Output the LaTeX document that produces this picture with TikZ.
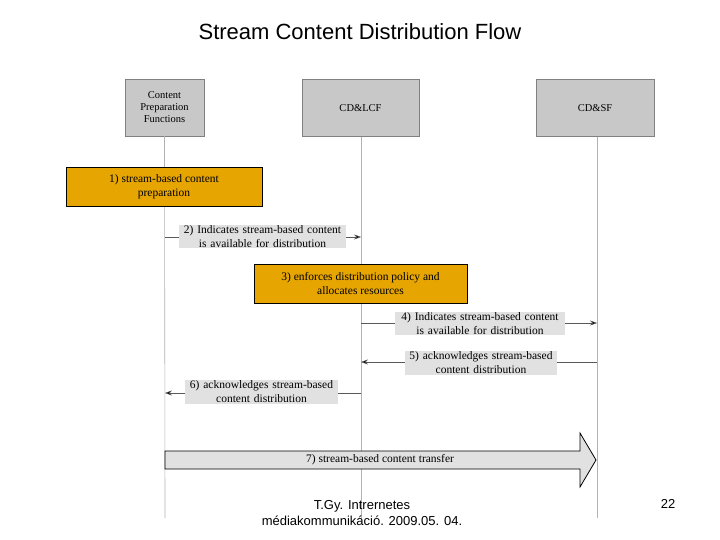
\documentclass[tikz,border=0pt]{standalone}
\usepackage{fontspec}
\newfontfamily\sansf{Liberation Sans}
\setmainfont{Liberation Serif}
\usetikzlibrary{arrows.meta,shapes.arrows}
\definecolor{boxgray}{RGB}{200,200,200}
\definecolor{lblgray}{RGB}{225,225,225}
\definecolor{orng}{RGB}{230,165,0}
\begin{document}
\begin{tikzpicture}[x=1pt,y=-1pt,
  actor/.style={draw=gray,fill=boxgray,minimum width=#1,minimum height=57pt,inner sep=1pt,align=center,font=\fontsize{10.5}{12}\selectfont},
  stepbox/.style={draw=black,fill=orng,align=center,inner sep=1pt,font=\fontsize{11.5}{14}\selectfont,minimum height=39pt},
  lbl/.style={fill=lblgray,align=center,inner sep=0.5pt,font=\fontsize{11.5}{14}\selectfont},
  life/.style={draw=gray!60,line width=0.6pt},
  msg/.style={draw=gray!70!black,line width=0.5pt,-{Stealth[length=7pt,width=5pt,fill=black]}}]
\useasboundingbox (0,0) rectangle (720,540);
\node[font=\sansf\fontsize{22}{24}\selectfont] (title) at (360,32) {Stream Content Distribution Flow};
\node[actor=79pt] (cp) at (164.5,107.5) {Content\\Preparation\\Functions};
\node[actor=117pt] (lcf) at (360.5,108) {CD\&LCF};
\node[actor=118pt] (sf) at (595,108) {CD\&SF};
\coordinate (cpb) at (165,518);
\coordinate (lcfb) at (361,518);
\coordinate (sfb) at (597,518);
\draw[life] (cp.south) -- (cpb);
\draw[life] ([xshift=0.5pt]lcf.south) -- (lcfb);
\draw[life] ([xshift=2pt]sf.south) -- (sfb);
\node[stepbox,minimum width=196pt] (s1) at (164,186.5) {1) stream-based content\\preparation};
\node[stepbox,minimum width=213pt] (s3) at (360.5,283.5) {3) enforces distribution policy and\\allocates resources};
\coordinate (a2s) at (165,237); \coordinate (a2e) at (361,237);
\coordinate (a4s) at (361,323); \coordinate (a4e) at (597,323);
\coordinate (a5s) at (597,362); \coordinate (a5e) at (361,362);
\coordinate (a6s) at (361,393); \coordinate (a6e) at (165,393);
\draw[msg] (a2s) -- (a2e);
\draw[msg] (a4s) -- (a4e);
\draw[msg] (a5s) -- (a5e);
\draw[msg] (a6s) -- (a6e);
\node[lbl,text width=166pt] (l2) at (262.5,236.5) {2) Indicates stream-based content\\is available for distribution};
\node[lbl,text width=169pt] (l4) at (480,323.5) {4) Indicates stream-based content\\is available for distribution};
\node[lbl,text width=151pt] (l5) at (481,363) {5) acknowledges stream-based\\content distribution};
\node[lbl,text width=152pt] (l6) at (261.5,392) {6) acknowledges stream-based\\content distribution};
\draw[fill=lblgray,line width=0.8pt] (165,451) -- (580,451) -- (580,433) -- (596,460) -- (580,487) -- (580,469) -- (165,469) -- cycle;
\node[font=\fontsize{11.5}{14}\selectfont] (s7) at (380,460) {7) stream-based content transfer};
\node[font=\sansf\fontsize{13}{16}\selectfont,align=center] (foot) at (362,513) {T.Gy. Intrernetes\\médiakommunikáció. 2009.05. 04.};
\node[font=\sansf\fontsize{13}{15}\selectfont] (pg) at (668,504) {22};
\end{tikzpicture}
\end{document}
